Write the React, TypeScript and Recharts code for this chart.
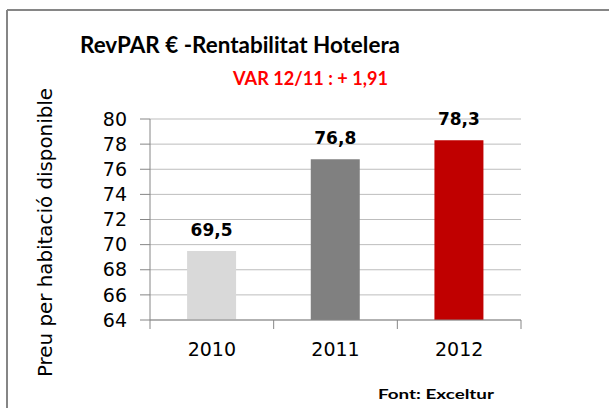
import React from 'react';
import { BarChart, Bar, XAxis, YAxis, CartesianGrid, Cell, LabelList } from 'recharts';

const years = ['2010', '2011', '2012'];
const revpar = [69.5, 76.8, 78.3];
const barColors = ['#D9D9D9', '#808080', '#C00000'];
const yTicks = [64, 66, 68, 70, 72, 74, 76, 78, 80];

const data = years.map((year, i) => ({ year, value: revpar[i] }));

const fmt = (v: number) => v.toFixed(1).replace('.', ',');

const X_TICK_SIZE = 9;
const X_TICK_MARGIN = 14;

// Excel draws the category tick marks between the bars, not under them
const YearTick = (props: any) => {
    const { x, y, payload, index, width } = props;
    const band = width / years.length;
    const axisY = y - X_TICK_SIZE - X_TICK_MARGIN;
    const left = x - band / 2;
    return (
        <g>
            <line x1={left} y1={axisY} x2={left} y2={axisY + X_TICK_SIZE} stroke="#868686" />
            {index === years.length - 1 && (
                <line x1={left + band} y1={axisY} x2={left + band} y2={axisY + X_TICK_SIZE} stroke="#868686" />
            )}
            <text x={x} y={y} dy="0.71em" textAnchor="middle" fill="#000" fontSize={19} fontFamily="DejaVu Sans">
                {payload.value}
            </text>
        </g>
    );
};

export default function App() {
    return (
        <div style={{ position: 'absolute', left: 0, top: 0, width: 609, height: 408, background: '#fff' }}>
            <BarChart
                width={609}
                height={408}
                data={data}
                margin={{ top: 119, right: 88, bottom: 57, left: 90 }}
                barCategoryGap="30%"
            >
                <CartesianGrid vertical={false} stroke="#BDBDBD" />
                <XAxis
                    dataKey="year"
                    stroke="#868686"
                    tickLine={false}
                    tickSize={X_TICK_SIZE}
                    tickMargin={X_TICK_MARGIN}
                    height={31}
                    tick={<YearTick />}
                />
                <YAxis
                    domain={[64, 80]}
                    ticks={yTicks}
                    interval={0}
                    width={60}
                    stroke="#868686"
                    tickSize={10}
                    tickMargin={13}
                    tick={{ fill: '#000', fontSize: 19, fontFamily: 'DejaVu Sans' }}
                />
                <Bar dataKey="value" isAnimationActive={false}>
                    {data.map((d, i) => (
                        <Cell key={d.year} fill={barColors[i]} />
                    ))}
                    <LabelList
                        dataKey="value"
                        position="top"
                        offset={15}
                        formatter={(v: number) => fmt(v)}
                        style={{ fill: '#000', fontSize: 17, fontWeight: 700, fontFamily: 'DejaVu Sans' }}
                    />
                </Bar>
            </BarChart>

            {/* frame, titles and notes */}
            <svg width={609} height={408} style={{ position: 'absolute', left: 0, top: 0, pointerEvents: 'none' }}>
                <line x1={7} y1={10} x2={609} y2={10} stroke="#868686" strokeWidth={2} />
                <line x1={7} y1={10} x2={7} y2={408} stroke="#868686" strokeWidth={2} />
                <text x={80} y={53} fontFamily="Lato" fontWeight={700} fontSize={22} textLength={320} lengthAdjust="spacingAndGlyphs" fill="#000">
                    RevPAR € -Rentabilitat Hotelera
                </text>
                <text x={233} y={85} fontFamily="Lato" fontWeight={700} fontSize={18} textLength={155} lengthAdjust="spacingAndGlyphs" fill="#FF0000">
                    VAR 12/11 : + 1,91
                </text>
                <text
                    transform="translate(52,377) rotate(-90)"
                    fontFamily="DejaVu Sans"
                    fontSize={19}
                    textLength={289}
                    lengthAdjust="spacingAndGlyphs"
                    fill="#000"
                >
                    Preu per habitació disponible
                </text>
                <text x={378} y={399} fontFamily="Lato" fontWeight={700} fontSize={14} textLength={116} lengthAdjust="spacingAndGlyphs" fill="#000">
                    Font: Exceltur
                </text>
            </svg>
        </div>
    );
}
